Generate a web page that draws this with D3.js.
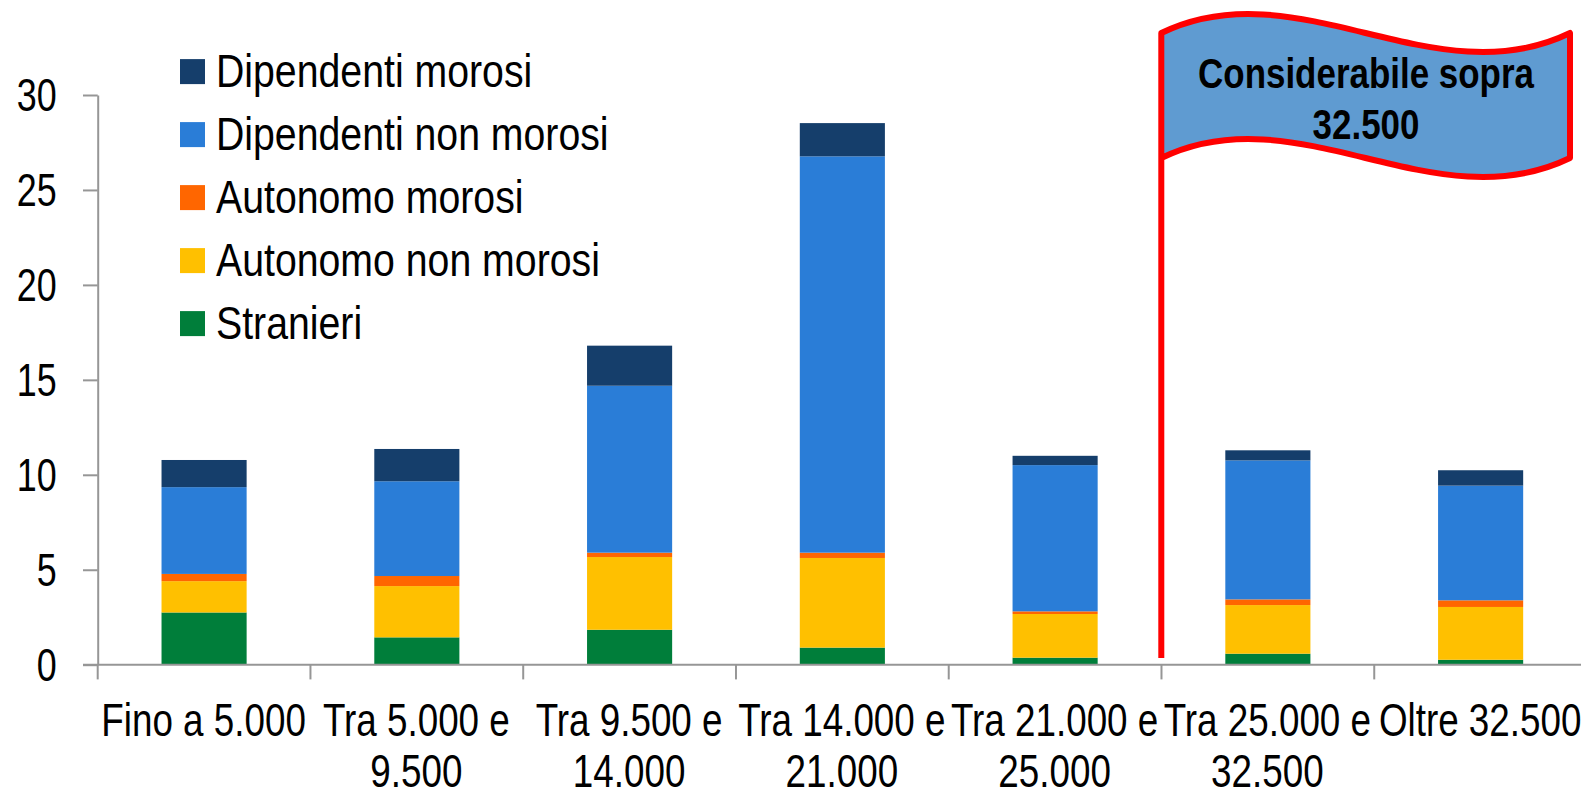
<!DOCTYPE html>
<html>
<head>
<meta charset="utf-8">
<script src="https://cdn.jsdelivr.net/npm/d3@7"></script>
<style>
  html, body { margin: 0; padding: 0; background: #fff; overflow: hidden; }
  text { font-family: "Liberation Sans", Arial, sans-serif; fill: #000; }
</style>
</head>
<body>
<div id="chart"></div>
<script>
// Data
const categories = ["Fino a 5.000", "Tra 5.000 e 9.500", "Tra 9.500 e 14.000", "Tra 14.000 e 21.000", "Tra 21.000 e 25.000", "Tra 25.000 e 32.500", "Oltre 32.500"];
const category_lines = [["Fino a 5.000"], ["Tra 5.000 e", "9.500"], ["Tra 9.500 e", "14.000"], ["Tra 14.000 e", "21.000"], ["Tra 21.000 e", "25.000"], ["Tra 25.000 e", "32.500"], ["Oltre 32.500"]];
const stranieri = [2.75, 1.44, 1.84, 0.90, 0.37, 0.58, 0.26];
const autonomo_non_morosi = [1.65, 2.70, 3.83, 4.72, 2.30, 2.56, 2.78];
const autonomo_morosi = [0.38, 0.53, 0.23, 0.28, 0.14, 0.30, 0.35];
const dipendenti_non_morosi = [4.57, 4.99, 8.79, 20.87, 7.70, 7.32, 6.04];
const dipendenti_morosi = [1.43, 1.70, 2.11, 1.75, 0.49, 0.53, 0.81];
const y_ticks = [0, 5, 10, 15, 20, 25, 30];

const series_names = ["Stranieri", "Autonomo non morosi", "Autonomo morosi", "Dipendenti non morosi", "Dipendenti morosi"];
const series_values = [stranieri, autonomo_non_morosi, autonomo_morosi, dipendenti_non_morosi, dipendenti_morosi];
const series_colors = ["#007e3a", "#ffc000", "#ff6600", "#2a7dd7", "#153e6b"];
const legend_names = series_names.slice().reverse();

const dims = { width: 1581, height: 791 };
const plot = { left: 97.7, right: 1587, top: 95, bottom: 664.7 };
const font_size = 46;
const axis_color = "#969696";

var svg = d3.select("#chart")
  .append("svg")
  .attr("width", dims.width)
  .attr("height", dims.height)
  .style("display", "block");

var x = d3.scaleBand().domain(categories).range([plot.left, plot.right]).paddingInner(0.6).paddingOuter(0.3);
var y = d3.scaleLinear().domain([0, 30]).range([plot.bottom, plot.top]);

// stacked bars
var rows = categories.map(function (c, i) {
  var row = { category: c };
  series_names.forEach(function (s, j) { row[s] = series_values[j][i]; });
  return row;
});
var stacked = d3.stack().keys(series_names)(rows);

svg.selectAll(".layer").data(stacked).enter().append("g")
  .attr("class", "layer")
  .attr("fill", function (d, i) { return series_colors[i]; })
  .selectAll("rect").data(function (d) { return d; }).enter().append("rect")
  .attr("x", function (d) { return x(d.data.category); })
  .attr("width", x.bandwidth())
  .attr("y", function (d) { return y(d[1]); })
  .attr("height", function (d) { return y(d[0]) - y(d[1]); });

// y axis
var y_axis = svg.append("g")
  .attr("transform", `translate(${plot.left},0)`)
  .call(d3.axisLeft(y).tickValues(y_ticks).tickSize(14.7).tickPadding(0).tickSizeOuter(0));
y_axis.select(".domain").attr("stroke", axis_color).attr("stroke-width", 2);
y_axis.selectAll(".tick line").attr("stroke", axis_color).attr("stroke-width", 2);
y_axis.selectAll(".tick text")
  .attr("x", null).attr("dy", null)
  .attr("font-size", font_size)
  .attr("text-anchor", "end")
  .attr("transform", "translate(-41,15.5) scale(0.78,1)");

// x axis, ticks sit on the band edges
var x_axis = svg.append("g").attr("transform", `translate(0,${plot.bottom})`);
x_axis.append("line")
  .attr("x1", plot.left - 14.7).attr("x2", dims.width)
  .attr("stroke", axis_color).attr("stroke-width", 2);
x_axis.selectAll(".edge").data(categories).enter().append("line")
  .attr("class", "edge")
  .attr("x1", function (d) { return x(d) - x.step() * 0.3; })
  .attr("x2", function (d) { return x(d) - x.step() * 0.3; })
  .attr("y1", 0).attr("y2", 14.7)
  .attr("stroke", axis_color).attr("stroke-width", 2);

var x_labels = svg.selectAll(".xlabel").data(categories).enter().append("text")
  .attr("class", "xlabel")
  .attr("font-size", font_size)
  .attr("text-anchor", "middle")
  .attr("transform", function (d) { return `translate(${x(d) + x.bandwidth() / 2 - 0.5},736) scale(0.8,1)`; });
x_labels.selectAll("tspan").data(function (d, i) { return category_lines[i]; }).enter().append("tspan")
  .attr("x", 0)
  .attr("y", function (d, i) { return i * 51; })
  .text(function (d) { return d; });

// legend
var legend_y = d3.scalePoint().domain(legend_names).range([71.6, 323.6]);
var legend_color = d3.scaleOrdinal().domain(series_names).range(series_colors);
var legend = svg.selectAll(".legend").data(legend_names).enter().append("g")
  .attr("class", "legend")
  .attr("transform", function (d) { return `translate(0,${legend_y(d)})`; });
legend.append("rect")
  .attr("x", 180).attr("y", -12.5)
  .attr("width", 25).attr("height", 25)
  .attr("fill", function (d) { return legend_color(d); });
legend.append("text")
  .attr("font-size", font_size)
  .attr("transform", "translate(216,15.5) scale(0.853,1)")
  .text(function (d) { return d; });

// flag
svg.append("path")
  .attr("d", "M1161,33 C1297,-33 1434,99 1570,33 L1570,158 C1434,224 1297,92 1161,158 Z")
  .attr("fill", "#5f9bd1");
svg.append("path")
  .attr("d", "M1161.3,658 L1161.3,33 C1297,-33 1434,99 1570,33 L1570,158 C1434,224 1297,92 1161.3,158")
  .attr("fill", "none")
  .attr("stroke", "#ff0000")
  .attr("stroke-width", 6)
  .attr("stroke-linejoin", "round");

svg.selectAll(".flagtext").data(["Considerabile sopra", "32.500"]).enter().append("text")
  .attr("class", "flagtext")
  .attr("font-size", 42)
  .attr("font-weight", "bold")
  .attr("text-anchor", "middle")
  .attr("transform", function (d, i) { return `translate(1366,${88 + i * 51}) scale(0.832,1)`; })
  .text(function (d) { return d; });
</script>
</body>
</html>
